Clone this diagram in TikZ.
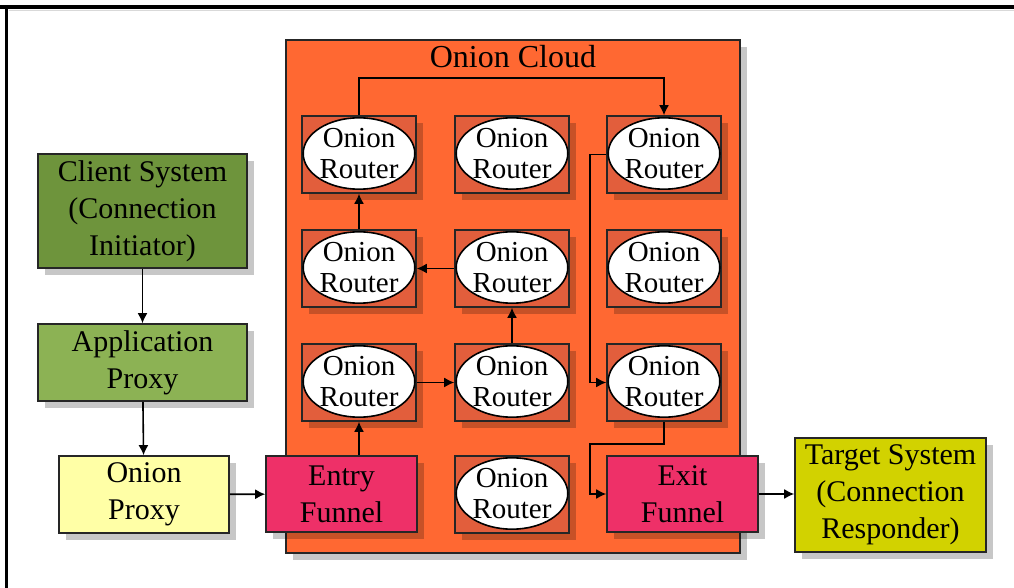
\documentclass[tikz,border=0pt]{standalone}
\usepackage{fontspec}
\setmainfont{Liberation Serif}
\usetikzlibrary{shapes.geometric,shadows,arrows.meta}
\definecolor{cloudfill}{RGB}{255,104,50}
\definecolor{cellfill}{RGB}{226,94,60}
\definecolor{clientfill}{RGB}{110,148,60}
\definecolor{appfill}{RGB}{140,178,84}
\definecolor{proxyfill}{RGB}{255,255,166}
\definecolor{funnelfill}{RGB}{238,48,104}
\definecolor{targetfill}{RGB}{210,210,0}

\begin{document}
\begin{tikzpicture}[x=0.5pt,y=-0.5pt,
	box/.style={draw=black!85,line width=0.8pt,align=center,inner sep=0pt,
		drop shadow={shadow xshift=3.5pt,shadow yshift=-3.5pt,fill=black,opacity=0.22},
		font=\fontsize{15}{18.5}\selectfont},
	cell/.style={box,fill=cellfill,minimum width=57pt,minimum height=38.5pt},
	router/.style={ellipse,draw=black,line width=0.8pt,fill=white,inner sep=0pt,
		minimum width=55pt,minimum height=35pt,align=center,font=\fontsize{14.5}{15.5}\selectfont},
	link/.style={line width=0.8pt,-{Latex[length=5pt,width=5pt]}}]
	\fill[white] (0,0) rectangle (1014,588);
	\useasboundingbox (0,0) rectangle (1014,588);
	\draw[gray!30,line width=0.8pt] (9,10.5) -- (1014,10.5);
	\draw[line width=2pt] (0,7) -- (1014,7);
	\draw[line width=1.5pt] (6,7) -- (6,588);

	\node[box,fill=cloudfill,minimum width=227pt,minimum height=256.5pt] (cloud) at (513,296.5) {};
	\node[font=\fontsize{16}{18}\selectfont] (title) at (513,57) {Onion Cloud};
	\foreach \c/\x/\y in {11/359/154.5,12/512/154.5,13/664/154.5,
		21/359/268.5,22/512/268.5,23/664/268.5,
		31/359/382.5,32/512/382.5,33/664/382.5,42/512/494.5}{
		\node[cell] (c\c) at (\x,\y) {};
		\node[router] (r\c) at (\x,\y-1) {Onion\\Router};
	}

	\node[box,fill=clientfill,minimum width=104.5pt,minimum height=57pt] (client) at (142.5,211) {Client System\\(Connection\\Initiator)};
	\node[box,fill=appfill,minimum width=104.5pt,minimum height=38.5pt] (app) at (142.5,362.5) {Application\\Proxy};
	\node[box,fill=proxyfill,minimum width=85pt,minimum height=38.5pt] (proxy) at (144,494.5) {Onion\\Proxy};
	\node[box,fill=funnelfill,minimum width=75.5pt,minimum height=38pt] (entry) at (341.5,494) {Entry\\Funnel};
	\node[box,fill=funnelfill,minimum width=75.5pt,minimum height=38pt] (exit) at (682.5,494) {Exit\\Funnel};
	\node[box,fill=targetfill,minimum width=95.5pt,minimum height=57pt] (target) at (890.5,495) {Target System\\(Connection\\Responder)};

	\coordinate (top) at (513,78);
	\coordinate (lane) at (590,300);
	\coordinate (bend) at (590,444);
	\draw[link] (client) -- (app);
	\draw[link] (app) -- (proxy);
	\draw[link] (proxy) -- (entry);
	\draw[link] (entry.north -| c31) -- (c31);
	\draw[link] (c31) -- (c32);
	\draw[link] (c32) -- (c22);
	\draw[link] (c22) -- (c21);
	\draw[link] (c21) -- (c11);
	\draw[link] (c11.north) |- (top) -| (c13.north);
	\draw[link] (c13.west) -| (lane) |- (c33.west);
	\draw[link] (c33.south) |- (bend) |- (exit.west);
	\draw[link] (exit) -- (exit -| target.west);
\end{tikzpicture}
\end{document}
